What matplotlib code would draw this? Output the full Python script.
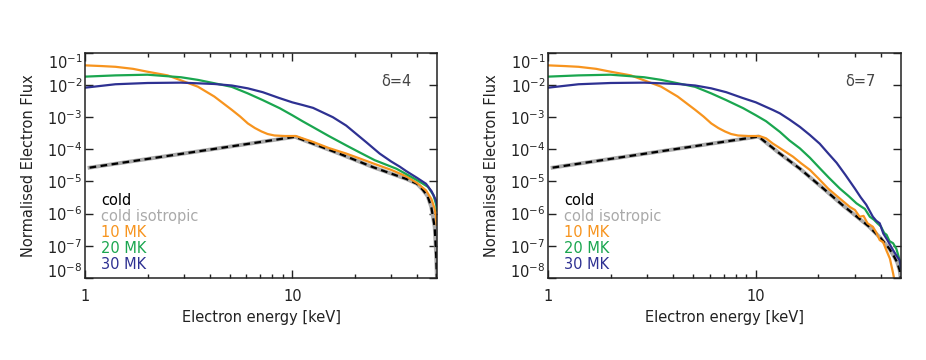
import numpy as np
import matplotlib
matplotlib.use("Agg")
import matplotlib.pyplot as plt
from matplotlib.ticker import FixedLocator, NullLocator

# energies in keV, fluxes normalised

# cold target
cold_E_d4 = [1.05, 10.3, 17, 24.5, 35.5, 40, 42.7, 45, 46.9, 48.7, 49.5, 49.9]
cold_F_d4 = [2.7e-5, 2.45e-4, 7.2e-5, 2.8e-5, 1.2e-5, 8.5e-6, 5.5e-6, 3.5e-6, 1.6e-6, 3.8e-7, 5e-8, 1e-8]
cold_E_d7 = [1.05, 10.3, 13, 16.3, 21.5, 26, 30, 35, 40, 44, 46, 48, 49.3, 50]
cold_F_d7 = [2.7e-5, 2.5e-4, 7.5e-5, 2.5e-5, 5.5e-6, 1.9e-6, 9e-7, 4e-7, 1.7e-7, 8e-8, 5e-8, 3e-8, 1.7e-8, 8e-9]

# warm target, low-energy part is the same in both panels
t10_E_low = [1, 1.2, 1.4, 1.7, 2, 2.5, 2.9, 3.5, 4.2, 5.1, 5.6, 6.1, 6.6, 7.1, 7.6, 8.2, 9.2, 10.4]
t10_F_low = [0.041, 0.039, 0.037, 0.032, 0.026, 0.020, 0.014, 0.0089, 0.0044, 0.0017, 0.00105, 0.00064,
             0.00046, 0.00036, 0.00030, 0.00027, 0.00026, 0.00026]
t20_E_low = [1, 1.4, 2, 2.9, 3.5, 4.2, 5.1, 6.1, 7.2, 8.7, 10]
t20_F_low = [0.0183, 0.020, 0.021, 0.0175, 0.0145, 0.0114, 0.0088, 0.0055, 0.0034, 0.0019, 0.00115]
t30_E_low = [1, 1.4, 2, 2.9, 4.2, 5.1, 6.1, 7.2, 8.6, 10]
t30_F_low = [0.0083, 0.0106, 0.0116, 0.0119, 0.0108, 0.0097, 0.0079, 0.006, 0.0040, 0.0029]

# delta = 4, above 10 keV
t10_E_d4 = [11.2, 12.6, 15, 18.2, 21, 25, 30, 35.5, 40, 44.2, 47, 48.7, 49.4, 49.8]
t10_F_d4 = [2.2e-4, 1.7e-4, 1.1e-4, 7.4e-5, 5.3e-5, 3.5e-5, 2.3e-5, 1.45e-5, 9e-6, 5.3e-6, 2.8e-6,
            1.4e-6, 7.8e-7, 4.5e-7]
t20_E_d4 = [11.2, 12.6, 15, 18.2, 21, 25, 31.8, 35.5, 40, 45.2, 48, 49.4, 50]
t20_F_d4 = [7.5e-4, 4.9e-4, 2.6e-4, 1.33e-4, 8.2e-5, 4.6e-5, 2.5e-5, 1.7e-5, 1.1e-5, 6.8e-6, 3.8e-6,
            2.0e-6, 1.26e-6]
t30_E_d4 = [11.2, 12.6, 15.7, 18.2, 22.8, 26.4, 30, 33, 35.5, 40, 44.2, 47, 49.4, 50]
t30_F_d4 = [2.4e-3, 1.95e-3, 1.0e-3, 5.5e-4, 1.65e-4, 7.4e-5, 4.2e-5, 2.9e-5, 2.1e-5, 1.3e-5, 8.5e-6,
            5e-6, 2.6e-6, 1.8e-6]

# delta = 7, above 10 keV
t10_E_d7 = [11.2, 12.1, 13.5, 15.1, 16.5, 18.2, 20, 22.3, 25, 28.4, 30, 31.6, 33, 34.5, 36.6, 38,
            39.5, 41, 42.6, 44.2, 45.8, 47]
t10_F_d7 = [2.2e-4, 1.5e-4, 9.5e-5, 5.9e-5, 3.7e-5, 2.3e-5, 1.25e-5, 6e-6, 3.2e-6, 1.6e-6, 1.3e-6,
            8e-7, 8.5e-7, 5e-7, 3.9e-7, 2.6e-7, 1.5e-7, 1.3e-7, 7e-8, 4e-8, 1.4e-8, 6e-9]
t20_E_d7 = [11.2, 13.05, 14.5, 16.3, 18.2, 20.3, 22.5, 25.4, 28, 30.5, 32, 33.5, 35.4, 37, 38.5, 40,
            41.5, 42.6, 44, 45.8, 47.5, 49.3, 50]
t20_F_d7 = [7.5e-4, 3.5e-4, 1.9e-4, 1.07e-4, 5.5e-5, 2.6e-5, 1.3e-5, 6e-6, 3.5e-6, 2.1e-6, 1.7e-6,
            1.4e-6, 8e-7, 6.5e-7, 5e-7, 4e-7, 2.5e-7, 2.2e-7, 1.4e-7, 1.2e-7, 8e-8, 3.5e-8, 2e-8]
t30_E_d7 = [11, 12.1, 13.05, 14.5, 16.3, 18.2, 20.3, 22.3, 24.5, 27, 30, 32, 34, 36.6, 38, 39.5,
            41.1, 43, 45.8, 47.5, 49.3, 50]
t30_F_d7 = [2.2e-3, 1.67e-3, 1.32e-3, 8.5e-4, 5.0e-4, 2.8e-4, 1.5e-4, 7.5e-5, 3.8e-5, 1.6e-5, 6e-6,
            3.2e-6, 1.9e-6, 8e-7, 6e-7, 5e-7, 2.4e-7, 1.5e-7, 7.3e-8, 5e-8, 3.5e-8, 2e-8]

labels = ['cold', 'cold isotropic', '10 MK', '20 MK', '30 MK']
label_colors = ['black', '#aaaaaa', '#f7941e', '#1aa64f', '#2e3192']
TXT = '#222222'


def draw_panel(ax, cold_E, cold_F, t10_E, t10_F, t20_E, t20_F, t30_E, t30_F, delta):
    # cold isotropic (grey) sits under the dashed cold curve
    ax.plot(cold_E, cold_F, color='#aaaaaa', lw=2.8)
    ax.plot(cold_E, cold_F, color='black', lw=1.6, ls=(0, (3, 2)))
    ax.plot(t10_E_low + t10_E, t10_F_low + t10_F, color=label_colors[2], lw=1.6)
    ax.plot(t20_E_low + t20_E, t20_F_low + t20_F, color=label_colors[3], lw=1.6)
    ax.plot(t30_E_low + t30_E, t30_F_low + t30_F, color=label_colors[4], lw=1.6)

    ax.set_xscale('log')
    ax.set_yscale('log')
    ax.set_xlim(1, 50)
    ax.set_ylim(1e-8, 1e-1)
    ax.xaxis.set_major_locator(FixedLocator([1, 10]))
    ax.xaxis.set_minor_locator(FixedLocator([2, 3, 4, 5, 6, 7, 8, 9, 20, 30, 40]))
    ax.set_xticklabels(['1', '10'])
    ax.yaxis.set_major_locator(FixedLocator(10.0 ** np.arange(-8, 0)))
    ax.yaxis.set_minor_locator(NullLocator())
    ax.tick_params(which='both', direction='in', top=True, right=True, width=1.0,
                   colors='#222222', labelsize=10.5, labelcolor=TXT)
    ax.tick_params(which='major', length=5.5)
    ax.tick_params(which='minor', length=3)
    ax.tick_params(axis='x', pad=8)
    ax.tick_params(axis='y', pad=2)
    # end labels kept inside the axis range, as in the original
    yt = ax.yaxis.get_major_ticks()
    yt[0].label1.set_verticalalignment('baseline')
    yt[-1].label1.set_verticalalignment('top')
    for s in ax.spines.values():
        s.set_linewidth(1.1)
        s.set_color('#222222')

    ax.set_xlabel('Electron energy [keV]', fontsize=10.5, color=TXT, labelpad=4)
    ax.set_ylabel('Normalised Electron Flux', fontsize=10.5, color=TXT, labelpad=8)
    ax.text(0.885, 0.871, 'δ=%d' % delta, transform=ax.transAxes, ha='center',
            va='center', fontsize=10.5, color='#444444')
    for i, (lab, c) in enumerate(zip(labels, label_colors)):
        ax.text(0.045, 0.342 - 0.0711 * i, lab, transform=ax.transAxes, ha='left',
                va='center', fontsize=10.5, color=c)


fig = plt.figure(figsize=(9.26, 3.6), dpi=100)
ax1 = fig.add_axes([0.092, 0.228, 0.380, 0.625])
ax2 = fig.add_axes([0.592, 0.228, 0.381, 0.625])

draw_panel(ax1, cold_E_d4, cold_F_d4, t10_E_d4, t10_F_d4, t20_E_d4, t20_F_d4, t30_E_d4, t30_F_d4, 4)
draw_panel(ax2, cold_E_d7, cold_F_d7, t10_E_d7, t10_F_d7, t20_E_d7, t20_F_d7, t30_E_d7, t30_F_d7, 7)

fig.savefig('out.png', dpi=100, facecolor='white')
